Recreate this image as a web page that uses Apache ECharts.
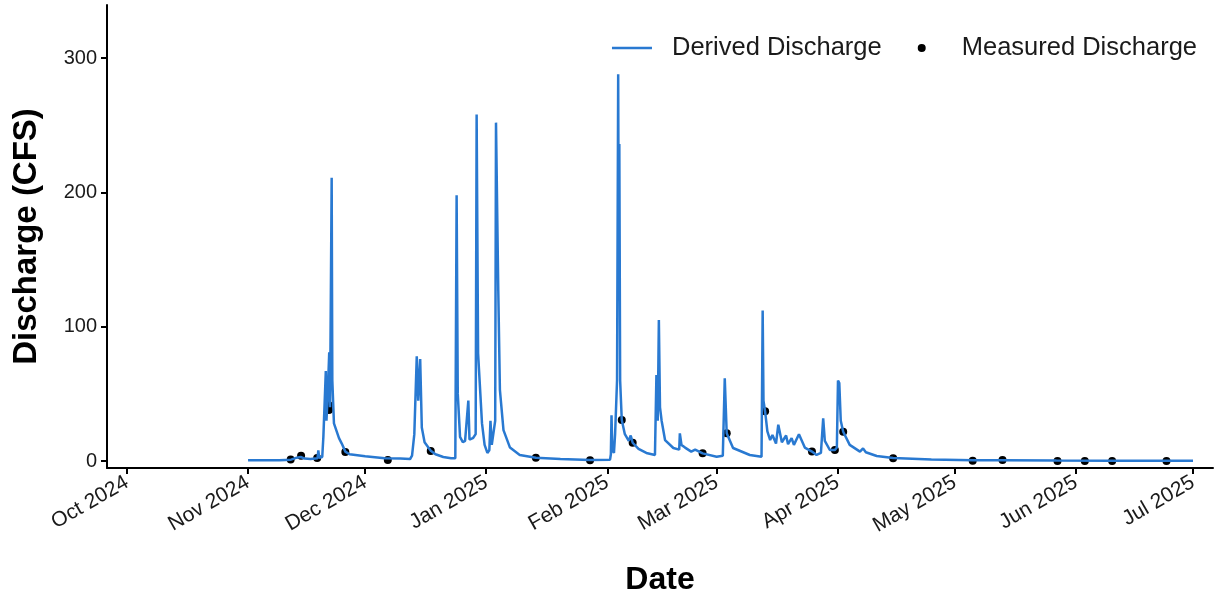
<!DOCTYPE html>
<html>
<head>
<meta charset="utf-8">
<script src="https://cdn.jsdelivr.net/npm/echarts@6/dist/echarts.min.js"></script>
<style>
  html, body { margin: 0; padding: 0; background: #fff; }
  #chart { width: 1214px; height: 596px; }
</style>
</head>
<body>
<div id="chart"></div>
<script>
// derived (continuous) discharge
const derivedTime = [
  '2024-11-01 00:00', '2024-11-05 00:00', '2024-11-09 00:00', '2024-11-12 00:00', '2024-11-13 12:00',
  '2024-11-14 12:00', '2024-11-15 12:00', '2024-11-17 00:00', '2024-11-18 19:00', '2024-11-19 00:00',
  '2024-11-19 05:00', '2024-11-20 00:00', '2024-11-20 07:00', '2024-11-20 22:00', '2024-11-21 02:00',
  '2024-11-21 10:00', '2024-11-21 19:00', '2024-11-22 00:00', '2024-11-22 10:00', '2024-11-22 14:00',
  '2024-11-23 00:00', '2024-11-24 07:00', '2024-11-25 00:00', '2024-11-25 22:00', '2024-11-27 00:00',
  '2024-12-01 00:00', '2024-12-06 00:00', '2024-12-10 00:00', '2024-12-12 12:00', '2024-12-13 00:00',
  '2024-12-13 07:00', '2024-12-13 14:00', '2024-12-14 05:00', '2024-12-14 14:00', '2024-12-15 02:00',
  '2024-12-15 12:00', '2024-12-16 05:00', '2024-12-17 19:00', '2024-12-19 00:00', '2024-12-21 00:00',
  '2024-12-23 00:00', '2024-12-24 02:00', '2024-12-24 10:00', '2024-12-24 17:00', '2024-12-25 07:00',
  '2024-12-26 00:00', '2024-12-26 14:00', '2024-12-27 00:00', '2024-12-27 10:00', '2024-12-27 17:00',
  '2024-12-28 02:00', '2024-12-28 14:00', '2024-12-29 07:00', '2024-12-29 13:00', '2024-12-29 22:00',
  '2024-12-30 22:00', '2024-12-31 14:00', '2025-01-01 07:00', '2025-01-01 19:00', '2025-01-02 02:00',
  '2025-01-02 10:00', '2025-01-02 19:00', '2025-01-03 07:00', '2025-01-03 12:00', '2025-01-04 02:00',
  '2025-01-04 12:00', '2025-01-05 10:00', '2025-01-07 02:00', '2025-01-09 14:00', '2025-01-13 17:00',
  '2025-01-20 00:00', '2025-01-27 14:00', '2025-02-01 17:00', '2025-02-01 22:00', '2025-02-02 02:00',
  '2025-02-02 07:00', '2025-02-02 17:00', '2025-02-03 00:00', '2025-02-03 12:00', '2025-02-03 19:00',
  '2025-02-03 23:00', '2025-02-04 02:00', '2025-02-04 07:00', '2025-02-04 17:00', '2025-02-05 12:00',
  '2025-02-06 12:00', '2025-02-07 00:00', '2025-02-07 12:00', '2025-02-09 00:00', '2025-02-11 00:00',
  '2025-02-13 05:00', '2025-02-13 14:00', '2025-02-13 22:00', '2025-02-14 05:00', '2025-02-14 12:00',
  '2025-02-14 22:00', '2025-02-15 19:00', '2025-02-17 22:00', '2025-02-19 10:00', '2025-02-19 14:00',
  '2025-02-20 00:00', '2025-02-20 22:00', '2025-02-22 12:00', '2025-02-23 12:00', '2025-02-25 10:00',
  '2025-03-01 00:00', '2025-03-02 14:00', '2025-03-03 02:00', '2025-03-03 14:00', '2025-03-05 05:00',
  '2025-03-09 12:00', '2025-03-12 12:00', '2025-03-12 19:00', '2025-03-13 00:00', '2025-03-13 10:00',
  '2025-03-14 00:00', '2025-03-14 17:00', '2025-03-15 07:00', '2025-03-16 05:00', '2025-03-16 19:00',
  '2025-03-17 17:00', '2025-03-18 19:00', '2025-03-19 07:00', '2025-03-20 05:00', '2025-03-20 19:00',
  '2025-03-22 02:00', '2025-03-23 14:00', '2025-03-25 10:00', '2025-03-26 14:00', '2025-03-27 17:00',
  '2025-03-28 07:00', '2025-03-28 17:00', '2025-03-30 00:00', '2025-03-31 07:00', '2025-03-31 19:00',
  '2025-04-01 02:00', '2025-04-01 10:00', '2025-04-01 19:00', '2025-04-02 10:00', '2025-04-04 02:00',
  '2025-04-06 17:00', '2025-04-07 12:00', '2025-04-08 05:00', '2025-04-11 00:00', '2025-04-15 05:00',
  '2025-04-25 00:00', '2025-05-05 14:00', '2025-05-13 05:00', '2025-05-27 00:00', '2025-06-10 00:00',
  '2025-06-24 00:00', '2025-07-01 00:00'
];
const derivedCfs = [
  0.5, 0.5, 0.6, 1.0, 2.5,
  3.0, 1.8, 1.5, 2.0, 8,
  2.5, 3, 18, 67, 30,
  50, 81, 40, 211, 60,
  28, 17, 13, 7, 5,
  3.5, 2, 1.8, 1.5, 4,
  3, 20, 78, 45, 76,
  25, 14, 7.7, 5, 3,
  2, 2, 198, 50, 18,
  14, 15, 14, 45, 16,
  15, 17, 20, 258, 80,
  28, 12, 6, 8, 30,
  12, 12, 30, 252, 127,
  53, 23, 10, 4.5, 2.5,
  1.5, 0.8, 1.0, 5, 34,
  8, 6, 20, 60, 288,
  120, 236, 60, 30.5, 20,
  15, 19, 13.6, 9, 6,
  4.5, 64, 30, 105, 40,
  30, 15.6, 9.7, 8.5, 20.6,
  12, 10, 7, 8.5, 5.7,
  3.2, 4, 61.6, 20.6, 9.7,
  4.5, 3.2, 112, 45, 37,
  22, 15.6, 19.4, 13, 27,
  14, 19, 12.5, 17, 12,
  20, 10, 7, 4.5, 6,
  31.8, 15, 8.2, 8.2, 10,
  60, 58, 30, 21.8, 12,
  7, 9.4, 6.5, 3.7, 2.2,
  1.2, 0.6, 0.5, 0.3, 0.25,
  0.2, 0.2
];

// field measurements
const measuredTime = [
  '2024-11-11 22:00', '2024-11-14 14:00', '2024-11-18 17:00', '2024-11-21 17:00', '2024-11-21 17:00',
  '2024-11-25 22:00', '2024-12-06 19:00', '2024-12-17 19:00', '2025-01-13 17:00', '2025-01-27 14:00',
  '2025-02-04 17:00', '2025-02-07 12:00', '2025-02-25 10:00', '2025-03-03 14:00', '2025-03-13 10:00',
  '2025-03-25 10:00', '2025-03-31 07:00', '2025-04-02 10:00', '2025-04-15 05:00', '2025-05-05 14:00',
  '2025-05-13 05:00', '2025-05-27 07:00', '2025-06-03 07:00', '2025-06-10 07:00', '2025-06-24 05:00'
];
const measuredCfs = [
  1.2, 3.9, 2.2, 41.5, 38,
  6.7, 0.8, 7.5, 2.5, 0.5,
  30.5, 13.6, 5.7, 20.6, 37,
  7, 8.2, 21.8, 2, 0.2,
  0.7, 0.1, 0.1, 0.1, 0.1
];

const monthTicks = [
  '2024-10-01 00:00', '2024-11-01 00:00', '2024-12-01 00:00', '2025-01-01 00:00', '2025-02-01 00:00',
  '2025-03-01 00:00', '2025-04-01 00:00', '2025-05-01 00:00', '2025-06-01 00:00', '2025-07-01 00:00'
];
const monthNames = ['Jan', 'Feb', 'Mar', 'Apr', 'May', 'Jun', 'Jul', 'Aug', 'Sep', 'Oct', 'Nov', 'Dec'];
const yTicks = [0, 100, 200, 300];

const DAY = 86400000;
function toMs(s) {
  const p = s.split(/[- :]/).map(Number);
  return Date.UTC(p[0], p[1] - 1, p[2], p[3], p[4]);
}
const tickValues = monthTicks.map(toMs);
const xMin = tickValues[0] - 5.12 * DAY;
const xMax = tickValues[tickValues.length - 1] + 5.12 * DAY;

const FONT = '"Liberation Sans", Arial, sans-serif';
const BLUE = '#2979d1';
// legend keys: both padded out to a 40x8 box (tiny corner slivers) so they sit centred like ggplot keys
const LINE_KEY = 'path://M0,0L0.01,0L0,0.01ZM0,2.75L40,2.75L40,5.25L0,5.25ZM40,8L39.99,8L40,7.99Z';
const DOT_KEY = 'path://M0,0L0.01,0L0,0.01ZM16,4A4,4 0 1,0 24,4A4,4 0 1,0 16,4ZM40,8L39.99,8L40,7.99Z';

const chart = echarts.init(document.getElementById('chart'));
chart.setOption({
  animation: false,
  backgroundColor: '#fff',
  grid: { left: 107, right: 1, top: 5, bottom: 128, outerBoundsMode: 'none', containLabel: false },
  legend: {
    right: 12,
    top: 30,
    itemWidth: 40,
    itemHeight: 8,
    itemGap: 20,
    textStyle: { fontFamily: FONT, fontSize: 25.5, color: '#1a1a1a', padding: [0, 0, 0, 15] },
    data: [
      { name: 'Derived Discharge', icon: LINE_KEY, itemStyle: { color: BLUE } },
      { name: 'Measured Discharge', icon: DOT_KEY, itemStyle: { color: '#000' } }
    ]
  },
  xAxis: {
    type: 'value',
    min: xMin,
    max: xMax,
    name: 'Date',
    nameLocation: 'middle',
    nameGap: 96,
    nameTextStyle: { fontFamily: FONT, fontSize: 32, fontWeight: 'bold', color: '#000' },
    axisLine: { onZero: false, lineStyle: { color: '#000', width: 2 } },
    axisTick: { customValues: tickValues, length: 6, lineStyle: { color: '#000', width: 2 } },
    axisLabel: {
      customValues: tickValues,
      rotate: 30,
      margin: 13,
      fontFamily: FONT,
      fontSize: 21,
      color: '#1a1a1a',
      formatter: function (v) {
        const d = new Date(v);
        return monthNames[d.getUTCMonth()] + ' ' + d.getUTCFullYear();
      }
    },
    splitLine: { show: false }
  },
  yAxis: {
    type: 'value',
    min: -5.2,
    max: 339.6,
    name: 'Discharge (CFS)',
    nameLocation: 'middle',
    nameGap: 64,
    nameTextStyle: { fontFamily: FONT, fontSize: 33, fontWeight: 'bold', color: '#000' },
    axisLine: { show: true, onZero: false, lineStyle: { color: '#000', width: 2 } },
    axisTick: { show: true, customValues: yTicks, length: 6, lineStyle: { color: '#000', width: 2 } },
    axisLabel: { customValues: yTicks, margin: 10, fontFamily: FONT, fontSize: 20, color: '#1a1a1a' },
    splitLine: { show: false }
  },
  series: [
    {
      name: 'Derived Discharge',
      type: 'line',
      symbol: 'none',
      showSymbol: false,
      lineStyle: { color: BLUE, width: 2.5 },
      itemStyle: { color: BLUE },
      data: derivedTime.map((t, i) => [toMs(t), derivedCfs[i]])
    },
    {
      name: 'Measured Discharge',
      type: 'scatter',
      symbol: 'circle',
      symbolSize: 8,
      itemStyle: { color: '#000', opacity: 1 },
      data: measuredTime.map((t, i) => [toMs(t), measuredCfs[i]])
    }
  ]
});
</script>
</body>
</html>
